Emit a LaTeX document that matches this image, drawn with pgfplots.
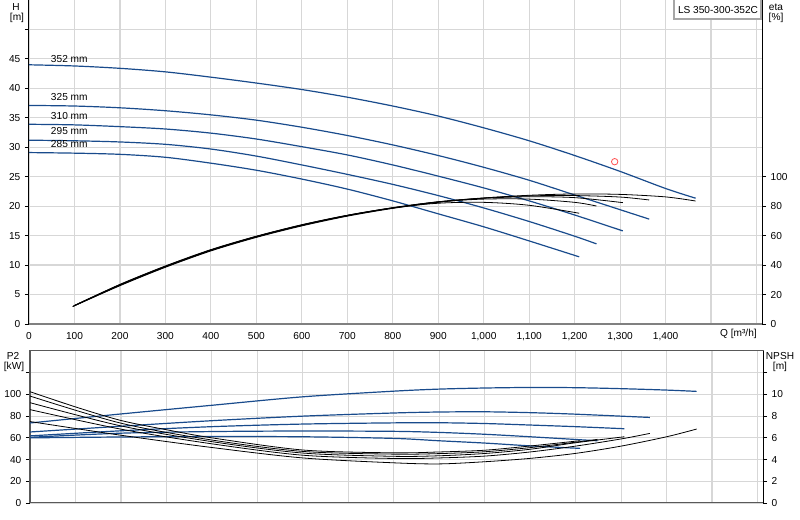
\documentclass[border=0pt]{standalone}
\usepackage{fontspec}
\setmainfont{Liberation Sans}
\usepackage{pgfplots}
\pgfplotsset{compat=1.18}

\definecolor{hblue}{RGB}{25,75,140}
\definecolor{gridgray}{RGB}{215,215,215}
\definecolor{markred}{RGB}{255,80,80}

\pgfplotsset{
  pump/.style={
    scale only axis, width=549.75pt,
    xmin=0, xmax=1612,
    tick align=outside, major tick length=3pt,
    tick style={black, line width=0.6pt},
    ticklabel style={font=\fontsize{7.6}{9}\selectfont},
    /pgf/number format/assume math mode=true,
  },
  hcurve/.style={hblue, line width=0.9pt, smooth},
  bcurve/.style={black, line width=0.6pt, smooth},
}

\begin{document}
\begin{tikzpicture}

% ---------- upper chart: H and eta ----------
\begin{axis}[pump, at={(21.75pt,147pt)}, anchor=south west, height=243pt,
  ymin=0, ymax=55,
  grid=major, grid style={gridgray, line width=0.9pt},
  axis x line*=bottom, axis y line*=left,
  x axis line style={gray, line width=1.5pt},
  y axis line style={black, line width=0.75pt},
  xtick={0,100,...,1600},
  xticklabels={0,100,200,300,400,500,600,700,800,900,{1,000},{1,100},{1,200},{1,300},{1,400},{},{}},
  xtick style={draw=none},
  extra x ticks={1500}, extra x tick labels={},
  extra x tick style={grid=none, tick align=center, major tick length=8pt, tick style={black, line width=0.6pt}},
  ytick={0,5,...,50},
  yticklabels={0,5,10,15,20,25,30,35,40,45,{}},
  clip=false,
]
\addplot[hcurve] coordinates {(0,44.0)(100,43.8)(200,43.4)(300,42.8)(400,41.9)(500,40.9)(600,39.8)(700,38.5)(800,37.0)(900,35.3)(1000,33.3)(1100,31.1)(1200,28.6)(1300,25.9)(1400,23.0)(1466,21.35)};
\addplot[hcurve] coordinates {(0,37.1)(100,37.0)(200,36.7)(300,36.2)(400,35.5)(500,34.6)(600,33.4)(700,32.0)(800,30.4)(900,28.6)(1000,26.6)(1100,24.4)(1200,21.9)(1300,19.4)(1364,17.8)};
\addplot[hcurve] coordinates {(0,33.9)(100,33.8)(200,33.5)(300,33.1)(400,32.4)(500,31.4)(600,30.1)(700,28.7)(800,27.0)(900,25.1)(1000,23.1)(1100,20.9)(1200,18.5)(1306,15.8)};
\addplot[hcurve] coordinates {(0,31.2)(100,31.1)(200,30.9)(300,30.5)(400,29.7)(500,28.5)(600,27.0)(700,25.4)(800,23.7)(900,21.8)(1000,19.7)(1100,17.4)(1200,14.9)(1248,13.6)};
\addplot[hcurve] coordinates {(0,29.1)(100,29.0)(200,28.8)(300,28.3)(400,27.3)(500,26.1)(600,24.6)(700,22.9)(800,20.9)(900,18.7)(1000,16.5)(1100,14.1)(1210,11.4)};
\addplot[only marks, mark=o, mark size=2.4pt, markred, line width=0.6pt] coordinates {(1288,27.55)};
\node[anchor=west, font=\fontsize{7.6}{9}\selectfont] at (axis cs:38,45.0) {352 mm};
\node[anchor=west, font=\fontsize{7.6}{9}\selectfont] at (axis cs:38,38.5) {325 mm};
\node[anchor=west, font=\fontsize{7.6}{9}\selectfont] at (axis cs:38,35.3) {310 mm};
\node[anchor=west, font=\fontsize{7.6}{9}\selectfont] at (axis cs:38,32.8) {295 mm};
\node[anchor=west, font=\fontsize{7.6}{9}\selectfont] at (axis cs:38,30.6) {285 mm};
\end{axis}

\begin{axis}[pump, at={(21.75pt,147pt)}, anchor=south west, height=243pt,
  ymin=0, ymax=220,
  axis x line=none, axis y line*=right,
  y axis line style={black, line width=0.75pt},
  ytick={0,20,...,100},
]
\addplot[bcurve] coordinates {(96,11.8)(200,26.0)(300,38.5)(400,49.6)(500,58.8)(600,66.6)(700,73.2)(800,78.5)(900,82.6)(1000,85.5)(1100,87.4)(1200,88.3)(1300,88.0)(1400,86.3)(1466,83.5)};
\addplot[bcurve] coordinates {(97,12.0)(200,26.3)(300,38.8)(400,49.9)(500,59.1)(600,66.9)(700,73.5)(800,78.7)(900,82.9)(1000,85.6)(1100,87.0)(1200,87.2)(1300,86.2)(1364,84.2)};
\addplot[bcurve] coordinates {(98,12.2)(200,26.5)(300,39.0)(400,50.1)(500,59.3)(600,67.1)(700,73.7)(800,78.9)(900,83.0)(1000,85.4)(1100,86.4)(1200,85.8)(1306,82.4)};
\addplot[bcurve] coordinates {(99,12.4)(200,26.7)(300,39.2)(400,50.3)(500,59.5)(600,67.3)(700,73.8)(800,79.0)(900,82.9)(1000,84.8)(1100,84.8)(1200,82.6)(1248,80.1)};
\addplot[bcurve] coordinates {(100,12.6)(200,26.9)(300,39.4)(400,50.5)(500,59.6)(600,67.4)(700,73.8)(800,78.8)(900,82.0)(1000,82.6)(1100,80.6)(1210,75.2)};
\end{axis}

% ---------- lower chart: P2 and NPSH ----------
\begin{axis}[pump, at={(22.5pt,12.75pt)}, anchor=south west, height=114pt,
  ymin=0, ymax=140,
  grid=major, grid style={gridgray, line width=0.9pt},
  axis line style={gray!70!black, line width=0.75pt},
  xtick={0,100,...,1600}, xticklabel style={opacity=0}, xtick style={draw=none},
  ytick={0,20,...,120},
  yticklabels={0,20,40,60,80,100,{}},
  ytick pos=left,
]
\addplot[hcurve] coordinates {(0,73.7)(200,82.0)(400,90.0)(600,97.8)(800,103.0)(900,104.9)(1000,105.9)(1100,106.4)(1200,106.2)(1300,105.3)(1400,104.0)(1466,102.8)};
\addplot[hcurve] coordinates {(0,65.4)(200,70.7)(400,75.8)(600,80.0)(800,82.9)(900,83.8)(1000,84.0)(1100,83.2)(1200,81.8)(1363,78.8)};
\addplot[hcurve] coordinates {(0,61.8)(200,66.5)(400,70.3)(600,72.7)(800,73.8)(900,73.9)(1000,73.2)(1100,71.8)(1200,70.3)(1307,68.4)};
\addplot[hcurve] coordinates {(0,60.5)(200,64.3)(400,65.8)(600,66.3)(800,66.0)(900,65.0)(1000,63.3)(1100,61.0)(1248,57.3)};
\addplot[hcurve] coordinates {(0,60.0)(200,60.8)(400,61.2)(600,61.0)(800,59.5)(900,57.3)(1000,55.2)(1100,52.6)(1210,50.3)};
\end{axis}

\begin{axis}[pump, at={(22.5pt,12.75pt)}, anchor=south west, height=114pt,
  ymin=0, ymax=14,
  axis x line=none, axis y line*=right,
  y axis line style={black, line width=0.75pt},
  ytick={0,2,...,12},
  yticklabels={0,2,4,6,8,10,{}},
]
\addplot[bcurve] coordinates {(0,7.5)(200,6.24)(400,5.11)(600,4.15)(800,3.7)(900,3.6)(1000,3.8)(1100,4.11)(1200,4.57)(1300,5.24)(1400,6.1)(1466,6.81)};
\addplot[bcurve] coordinates {(0,8.6)(200,6.8)(400,5.45)(600,4.4)(800,4.1)(900,4.15)(1000,4.32)(1100,4.7)(1200,5.24)(1300,5.9)(1363,6.41)};
\addplot[bcurve] coordinates {(0,9.24)(200,7.1)(400,5.65)(600,4.6)(800,4.3)(900,4.35)(1000,4.56)(1100,4.95)(1200,5.55)(1307,6.1)};
\addplot[bcurve] coordinates {(0,9.85)(200,7.35)(400,5.8)(600,4.75)(800,4.5)(900,4.55)(1000,4.72)(1100,5.1)(1200,5.6)(1248,5.86)};
\addplot[bcurve] coordinates {(0,10.25)(100,8.85)(200,7.6)(300,6.75)(400,6.0)(600,4.88)(800,4.62)(900,4.7)(1000,4.86)(1100,5.25)(1210,5.74)};
\end{axis}

% ---------- axis titles and type box ----------
\begin{scope}[x=0.75pt, y=0.75pt, every node/.style={font=\fontsize{7.6}{9}\selectfont, inner sep=0pt}]
\node at (16,513) {H};
\node at (17,502) {[m]};
\node at (776,513) {eta};
\node at (776,502) {[\%]};
\node at (13,164) {P2};
\node at (14,153) {[kW]};
\node at (780,164) {NPSH};
\node at (780,153) {[m]};
\node[anchor=east] at (757,186) {Q [m³/h]};
\draw[gray!70, line width=1.2pt, fill=white] (674,501) rectangle (761,522);
\node at (718,510) {LS 350-300-352C};
\end{scope}

\pgfresetboundingbox
\path (0,0) rectangle (600pt,390pt);
\end{tikzpicture}
\end{document}
